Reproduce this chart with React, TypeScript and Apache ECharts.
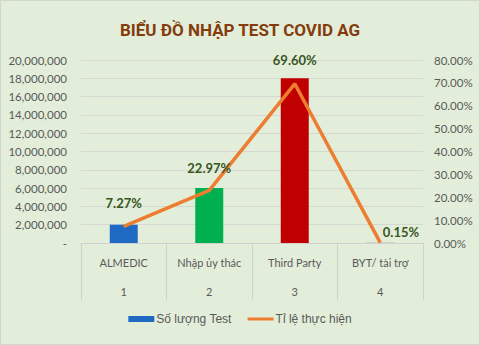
import React, { useEffect, useRef } from "react";
import * as echarts from "echarts";

const categories = ["ALMEDIC", "Nhập ủy thác", "Third Party", "BYT/ tài trợ"];
const groupLabels = ["1", "2", "3", "4"];
const testCounts = [2000000, 6000000, 18000000, 40000];
const barColors = ["#1F6BC4", "#00B050", "#C00000", "#A5A5A5"];
const rates = [0.0727, 0.2297, 0.696, 0.0015];
const leftTicks = { min: 0, max: 20000000, interval: 2000000 };
const rightTicks = { min: 0, max: 0.8, interval: 0.1 };

const FONT = "Lato, 'Liberation Sans', sans-serif";

export default function App() {
  const ref = useRef<HTMLDivElement>(null);
  useEffect(() => {
    document.body.style.margin = "0";
    const chart = echarts.init(ref.current!, null, { renderer: "svg" });
    const labelPos: any[] = [
      { position: "top", distance: 16 },
      { position: "top", distance: 15 },
      { position: "top", distance: 17 },
      { position: "right", distance: 2, offset: [0, -11] },
    ];
    chart.setOption({
      animation: false,
      backgroundColor: "#E3EEDA",
      title: {
        text: "BIỂU ĐỒ NHẬP TEST COVID AG",
        left: "center",
        top: 16,
        textStyle: {
          fontFamily: "Roboto, 'Noto Sans', sans-serif",
          fontWeight: "bold",
          fontSize: 17,
          color: "#843C0C",
        },
      },
      graphic: [
        {
          type: "rect",
          shape: { x: 0.5, y: 0.5, width: 479, height: 344 },
          style: { fill: "none", stroke: "#D0D6CC", lineWidth: 1 },
          silent: true,
        },
      ],
      legend: {
        bottom: 15,
        left: "center",
        itemGap: 16,
        itemWidth: 26,
        itemHeight: 6,
        textStyle: {
          fontFamily: "'Liberation Sans', sans-serif",
          fontSize: 12,
          color: "#595959",
          padding: [0, 0, 0, -3],
        },
        data: [
          { name: "Số lượng Test", icon: "rect", itemStyle: { color: "#1F6BC4" } },
          {
            name: "Tỉ lệ thực hiện",
            icon: "path://M0,0H26V3H0Z",
            itemStyle: { color: "#ED7D31" },
          },
        ],
      },
      grid: { left: 81, right: 57, top: 60, bottom: 102, containLabel: false },
      xAxis: {
        type: "category",
        data: categories,
        boundaryGap: true,
        axisLine: { lineStyle: { color: "#D0D0D0" } },
        axisTick: { show: true, length: 57, interval: 0, lineStyle: { color: "#D0D0D0" } },
        axisLabel: {
          interval: 0,
          margin: 5,
          lineHeight: 29,
          fontFamily: FONT,
          fontSize: 11,
          color: "#595959",
          formatter: (v: string, i: number) => `${v}\n${groupLabels[i]}`,
        },
      },
      yAxis: [
        {
          type: "value",
          ...leftTicks,
          axisLine: { show: false },
          axisTick: { show: false },
          splitLine: { lineStyle: { color: "#D4D8D0" } },
          axisLabel: {
            margin: 14,
            fontFamily: FONT,
            fontSize: 11.5,
            color: "#595959",
            formatter: (v: number) => (v === 0 ? "-" : v.toLocaleString("en-US")),
          },
        },
        {
          type: "value",
          ...rightTicks,
          axisLine: { show: false },
          axisTick: { show: false },
          splitLine: { show: false },
          axisLabel: {
            margin: 11,
            fontFamily: FONT,
            fontSize: 11.5,
            color: "#595959",
            formatter: (v: number) => (v * 100).toFixed(2) + "%",
          },
        },
      ],
      series: [
        {
          name: "Số lượng Test",
          type: "bar",
          yAxisIndex: 0,
          barWidth: 28,
          itemStyle: { color: "#1F6BC4" },
          data: testCounts.map((v, i) => ({ value: v, itemStyle: { color: barColors[i] } })),
        },
        {
          name: "Tỉ lệ thực hiện",
          type: "line",
          yAxisIndex: 1,
          symbol: "circle",
          symbolSize: 1,
          showSymbol: true,
          lineStyle: { color: "#ED7D31", width: 3.5 },
          itemStyle: { color: "#ED7D31" },
          data: rates.map((v, i) => ({
            value: v,
            label: {
              show: true,
              ...labelPos[i],
              formatter: (p: any) => (p.value * 100).toFixed(2) + "%",
              fontFamily: FONT,
              fontWeight: "bold",
              fontSize: 13,
              color: "#375623",
            },
          })),
        },
      ],
    });
    return () => chart.dispose();
  }, []);
  return <div ref={ref} style={{ position: "fixed", left: 0, top: 0, width: 480, height: 345 }} />;
}
